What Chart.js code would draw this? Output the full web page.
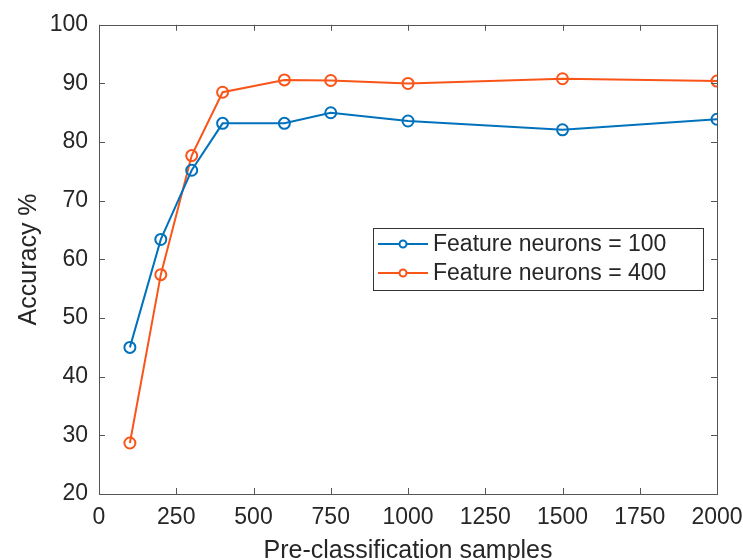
<!DOCTYPE html>
<html>
<head>
<meta charset="utf-8">
<script src="https://cdn.jsdelivr.net/npm/chart.js@4/dist/chart.umd.min.js"></script>
<style>
  html, body { margin: 0; padding: 0; background: #fff; }
  #wrap { width: 743px; height: 560px; }
</style>
</head>
<body>
<div id="wrap"><canvas id="accChart" width="743" height="560"></canvas></div>
<script>
// sample counts used for pre-classification
const samples = [100, 200, 300, 400, 600, 750, 1000, 1500, 2000];
// accuracy (%) for the two network sizes
const acc100 = [45.0, 63.4, 75.2, 83.2, 83.2, 85.0, 83.6, 82.1, 83.9];
const acc400 = [28.7, 57.4, 77.7, 88.5, 90.6, 90.5, 90.0, 90.8, 90.4];
const seriesNames = ['Feature neurons = 100', 'Feature neurons = 400'];
const xTicks = [0, 250, 500, 750, 1000, 1250, 1500, 1750, 2000];
const yTicks = [20, 30, 40, 50, 60, 70, 80, 90, 100];

const blue = '#0072BD';
const orange = '#FA5519';
const axisGrey = '#555';
const txt = '#262626';
const fam = '"Liberation Sans", Arial, Helvetica, sans-serif';

function toPoints(vals) {
    return samples.map((s, i) => ({ x: s, y: vals[i] }));
}

// box around the plot plus MATLAB style inward ticks on all four sides
const boxTicks = {
    id: 'boxTicks',
    afterDraw(chart) {
        const { ctx, chartArea: a, scales } = chart;
        const len = 6;
        ctx.save();
        ctx.strokeStyle = axisGrey;
        ctx.lineWidth = 1;
        ctx.strokeRect(Math.round(a.left) + 0.5, Math.round(a.top) + 0.5,
            Math.round(a.right - a.left), Math.round(a.bottom - a.top));
        ctx.beginPath();
        xTicks.forEach(v => {
            const px = Math.round(scales.x.getPixelForValue(v)) + 0.5;
            ctx.moveTo(px, a.bottom); ctx.lineTo(px, a.bottom - len);
            ctx.moveTo(px, a.top); ctx.lineTo(px, a.top + len);
        });
        yTicks.forEach(v => {
            const py = Math.round(scales.y.getPixelForValue(v)) + 0.5;
            ctx.moveTo(a.left, py); ctx.lineTo(a.left + len, py);
            ctx.moveTo(a.right, py); ctx.lineTo(a.right - len, py);
        });
        ctx.stroke();
        ctx.restore();
    }
};

// legend box sitting inside the plot, like the original figure
const boxLegend = {
    id: 'boxLegend',
    afterDraw(chart) {
        const { ctx } = chart;
        const x = 373, y = 228, w = 330, h = 62;
        ctx.save();
        ctx.fillStyle = '#fff';
        ctx.fillRect(x, y, w, h);
        ctx.strokeStyle = '#333';
        ctx.lineWidth = 1;
        ctx.strokeRect(x + 0.5, y + 0.5, w, h);
        ctx.font = '23px ' + fam;
        ctx.textBaseline = 'middle';
        chart.data.datasets.forEach((ds, i) => {
            const cy = y + 16 + i * 29;
            ctx.strokeStyle = ds.borderColor;
            ctx.lineWidth = 2;
            ctx.beginPath();
            ctx.moveTo(x + 5, cy); ctx.lineTo(x + 55, cy);
            ctx.stroke();
            ctx.beginPath();
            ctx.arc(x + 30, cy, 3.5, 0, Math.PI * 2);
            ctx.fillStyle = '#fff';
            ctx.fill();
            ctx.stroke();
            ctx.fillStyle = txt;
            ctx.fillText(ds.label, x + 60, cy + 1);
        });
        ctx.restore();
    }
};

const ctx = document.getElementById('accChart').getContext('2d');
const accChart = new Chart(ctx, {
    type: 'line',
    data: {
        datasets: [{
            label: seriesNames[0],
            data: toPoints(acc100),
            borderColor: blue,
            borderWidth: 2,
            pointRadius: 5.5,
            pointBorderWidth: 2,
            pointBackgroundColor: 'rgba(0,0,0,0)',
            pointBorderColor: blue,
            tension: 0
        }, {
            label: seriesNames[1],
            data: toPoints(acc400),
            borderColor: orange,
            borderWidth: 2,
            pointRadius: 5.5,
            pointBorderWidth: 2,
            pointBackgroundColor: 'rgba(0,0,0,0)',
            pointBorderColor: orange,
            tension: 0
        }]
    },
    options: {
        responsive: false,
        animation: false,
        layout: { padding: { top: 24, right: 0, left: 0, bottom: 0 } },
        plugins: {
            legend: { display: false },
            tooltip: { enabled: false }
        },
        scales: {
            x: {
                type: 'linear',
                min: 0,
                max: 2000,
                afterBuildTicks: s => { s.ticks = xTicks.map(v => ({ value: v })); },
                afterFit: s => { s.height = 66; s.paddingRight = 26; s.paddingLeft = 0; },
                grid: { display: false, drawTicks: false },
                border: { display: false },
                ticks: {
                    padding: 10,
                    maxRotation: 0,
                    autoSkip: false,
                    color: txt,
                    font: { family: fam, size: 23 },
                    callback: v => String(v)
                },
                title: {
                    display: true,
                    text: 'Pre-classification samples',
                    color: txt,
                    padding: { top: 0, bottom: -6 },
                    font: { family: fam, size: 25 }
                }
            },
            y: {
                min: 20,
                max: 100,
                afterBuildTicks: s => { s.ticks = yTicks.map(v => ({ value: v })); },
                afterFit: s => { s.width = 99; },
                grid: { display: false, drawTicks: false },
                border: { display: false },
                ticks: {
                    padding: 11,
                    autoSkip: false,
                    color: txt,
                    font: { family: fam, size: 23 },
                    callback: v => String(v)
                },
                title: {
                    display: true,
                    text: 'Accuracy %',
                    color: txt,
                    padding: { top: 14, bottom: 0 },
                    font: { family: fam, size: 25 }
                }
            }
        }
    },
    plugins: [boxTicks, boxLegend]
});
</script>
</body>
</html>
